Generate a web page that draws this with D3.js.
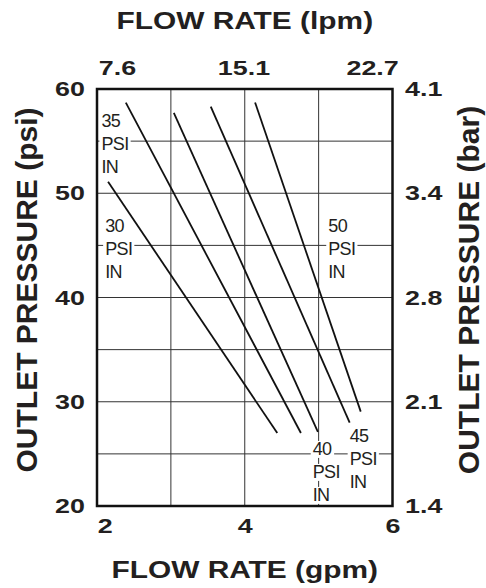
<!DOCTYPE html>
<html>
<head>
<meta charset="utf-8">
<script src="https://cdn.jsdelivr.net/npm/d3@7"></script>
<style>
  body { margin: 0; background: #fff; }
  svg text { font-family: "Liberation Sans", Arial, Helvetica, sans-serif; fill: #231f20; }
</style>
</head>
<body>
<div id="chart"></div>
<script>
// inlet pressure curves (outlet psi vs flow gpm)
const inletPsi = [30, 35, 40, 45, 50];
const startFlow = [2.15, 2.39, 3.04, 3.54, 4.14];
const startOut = [51.1, 58.7, 57.7, 58.3, 58.7];
const endFlow = [4.44, 4.76, 4.99, 5.42, 5.57];
const endOut = [27.0, 27.0, 27.1, 28.0, 29.05];

// where each "xx PSI IN" note sits (gpm, psi of first line)
const noteFlow = [2.11, 2.06, 4.92, 5.42, 5.13];
const notePsi = [46.3, 56.35, 24.9, 26.15, 46.3];

const gpmTicks = [2, 4, 6];
const lpmLabels = ["7.6", "15.1", "22.7"];
const psiTicks = [20, 30, 40, 50, 60];
const barLabels = ["1.4", "2.1", "2.8", "3.4", "4.1"];

class FlowChart {
  constructor(container) {
    this.container = container;
    this.margin = {top: 89, right: 93.5, bottom: 82, left: 97};
    this.width = 486 - this.margin.left - this.margin.right;
    this.height = 588 - this.margin.top - this.margin.bottom;
    this.stretch = 1.28; // the source lettering is drawn wide
    this.init();
  }
  init() {
    this.svg = d3.select(this.container)
      .append('svg')
      .attr('width', 486)
      .attr('height', 588)
      .append('g')
      .attr('transform', `translate(${this.margin.left},${this.margin.top})`);
    this.x = d3.scaleLinear().domain([2, 6]).range([0, this.width]);
    this.y = d3.scaleLinear().domain([20, 60]).range([this.height, 0]);
  }
  render() {
    const svg = this.svg, x = this.x, y = this.y, s = this.stretch;

    // grid
    svg.append('g')
      .selectAll('line')
      .data(d3.range(3, 6, 1))
      .join('line')
      .attr('x1', d => x(d)).attr('x2', d => x(d))
      .attr('y1', 0).attr('y2', this.height)
      .style('stroke', '#333').style('stroke-width', 1);
    svg.append('g')
      .selectAll('line')
      .data(d3.range(25, 60, 5))
      .join('line')
      .attr('x1', 0).attr('x2', this.width)
      .attr('y1', d => y(d)).attr('y2', d => y(d))
      .style('stroke', '#333').style('stroke-width', 1);

    // curves
    const curves = inletPsi.map((p, i) => ({
      p: p,
      pts: [[startFlow[i], startOut[i]], [endFlow[i], endOut[i]]]
    }));
    svg.append('g')
      .selectAll('path')
      .data(curves)
      .join('path')
      .attr('d', d => d3.line().x(v => x(v[0])).y(v => y(v[1]))(d.pts))
      .style('fill', 'none')
      .style('stroke', '#111')
      .style('stroke-width', 1.8);

    // notes with white backing
    const notes = svg.append('g');
    inletPsi.forEach((p, i) => {
      const lines = [String(p), 'PSI', 'IN'];
      lines.forEach((t, k) => {
        const g = notes.append('g');
        const txt = g.append('text')
          .attr('x', x(noteFlow[i]))
          .attr('y', y(notePsi[i]) + k * 23)
          .style('font-size', '18px')
          .style('letter-spacing', '-0.6px')
          .text(t);
        const b = txt.node().getBBox();
        g.insert('rect', 'text')
          .attr('x', b.x - 2).attr('y', b.y + 2)
          .attr('width', b.width + 4).attr('height', b.height - 3)
          .style('fill', '#fff');
      });
    });

    // frame
    svg.append('rect')
      .attr('width', this.width).attr('height', this.height)
      .style('fill', 'none').style('stroke', '#111').style('stroke-width', 2.5);

    const bold = sel => sel.selectAll('text')
      .style('font-size', '21px').style('font-weight', 'bold');

    // bottom axis (gpm)
    const bottom = svg.append('g')
      .attr('transform', `translate(0,${this.height})`)
      .call(d3.axisBottom(x).tickValues(gpmTicks).tickSize(0).tickPadding(12).tickFormat(d3.format('d')));
    bottom.call(bold);
    bottom.selectAll('text')
      .attr('dx', (d, i) => i === 0 ? 6 : 0)
      .attr('transform', `scale(${s},1)`);

    // top axis (lpm)
    const top = svg.append('g')
      .call(d3.axisTop(x).tickValues(gpmTicks).tickSize(0).tickPadding(14).tickFormat((d, i) => lpmLabels[i]));
    top.call(bold);
    top.selectAll('text')
      .style('text-anchor', (d, i) => i === 0 ? 'start' : i === 2 ? 'end' : 'middle')
      .attr('dx', (d, i) => i === 0 ? 1 : i === 2 ? 4.5 : -1)
      .attr('transform', `scale(${s},1)`);

    // left axis (psi)
    svg.append('g')
      .call(d3.axisLeft(y).tickValues(psiTicks).tickSize(0).tickPadding(12 / s).tickFormat(d3.format('d')))
      .call(bold)
      .selectAll('text').attr('transform', `scale(${s},1)`);

    // right axis (bar)
    svg.append('g')
      .attr('transform', `translate(${this.width},0)`)
      .call(d3.axisRight(y).tickValues(psiTicks).tickSize(0).tickPadding(12.5 / s).tickFormat((d, i) => barLabels[i]))
      .call(bold)
      .selectAll('text').attr('transform', `scale(${s},1)`);

    svg.selectAll('.domain').remove();

    // titles
    const title = (t, tx, ty, rot) => svg.append('text')
      .attr('transform', `translate(${tx},${ty})` + (rot ? ' rotate(-90)' : ` scale(${s + 0.02},1)`))
      .style('text-anchor', 'middle')
      .style('font-size', rot ? '30px' : '23px')
      .style('font-weight', 'bold')
      .text(t);
    title('FLOW RATE (lpm)', x(4), 29 - this.margin.top, false);
    title('FLOW RATE (gpm)', x(4), 578 - this.margin.top, false);
    title('OUTLET PRESSURE (psi)', 37 - this.margin.left, 290 - this.margin.top, true);
    title('OUTLET PRESSURE (bar)', 479 - this.margin.left, 290 - this.margin.top, true);
  }
}

const chart = new FlowChart('#chart');
chart.render();
</script>
</body>
</html>
